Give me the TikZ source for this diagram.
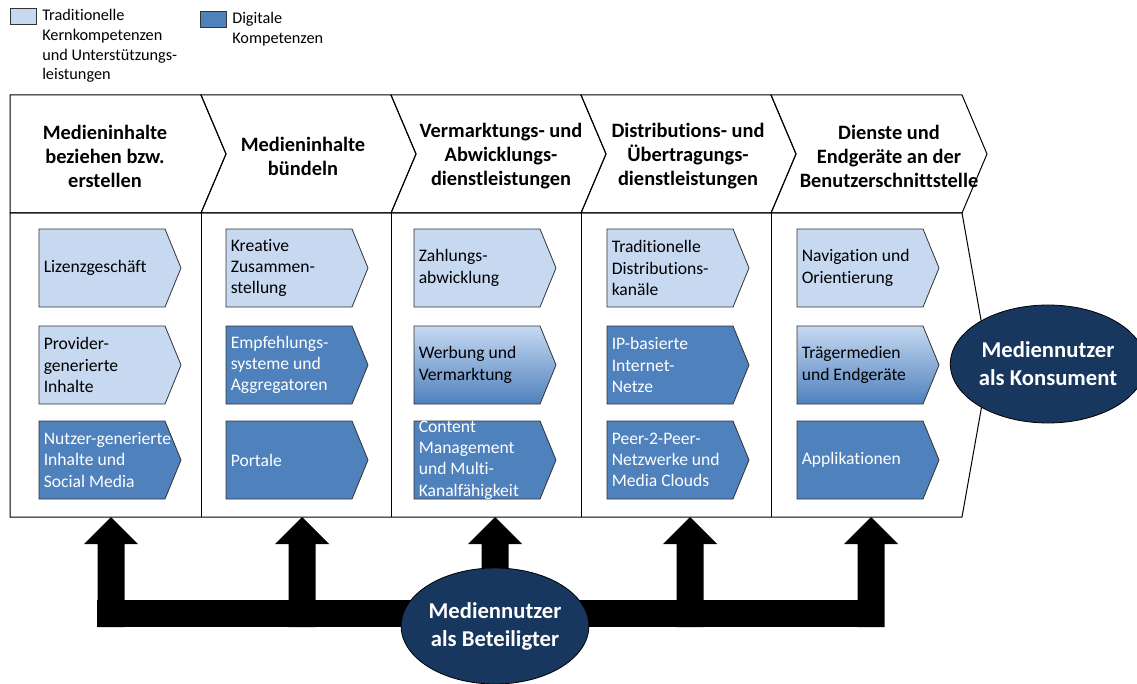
\documentclass[tikz,border=0pt]{standalone}
\usepackage{fontspec}
\setmainfont[Ligatures=NoCommon]{Carlito}
\usetikzlibrary{shapes.geometric}

\definecolor{tradblue}{RGB}{198,217,241}
\definecolor{digiblue}{RGB}{79,129,189}
\definecolor{usernavy}{RGB}{23,55,94}

\tikzset{
  outline/.style={draw=black, line width=0.75pt},
  kbox/.style={draw=black!80, line width=0.6pt},
  trad/.style={kbox, fill=tradblue},
  digi/.style={kbox, fill=digiblue},
  mixed/.style={kbox, top color=tradblue, middle color=tradblue!85!digiblue, bottom color=digiblue},
  ktext/.style={anchor=west, inner sep=0pt, align=left, font=\fontsize{13.2}{16}\selectfont},
  legtext/.style={anchor=north west, inner sep=0pt, align=left, font=\fontsize{12.2}{14.8}\selectfont},
  headtext/.style={inner sep=0pt, align=center, font=\fontsize{15.3}{18}\selectfont\bfseries},
  user/.style={ellipse, draw=black, line width=0.6pt, fill=usernavy, text=white,
    inner sep=0pt, align=center, font=\fontsize{17}{21}\selectfont\bfseries},
}

\begin{document}
\begin{tikzpicture}[x=0.75pt, y=-0.75pt]
  \useasboundingbox (0,0) rectangle (1137,684);

  % Legend
  \draw[trad] (10,8) rectangle (36,24);
  \node[legtext] (legtrad) at (42,9) {Traditionelle\\Kernkompetenzen\\und Unterstützungs-\\leistungen};
  \draw[digi] (200,11) rectangle (226,27);
  \node[legtext] (legdigi) at (232,12) {Digitale\\Kompetenzen};

  % Header row: chevrons of the value chain
  \def\topy{95}   % top of header
  \def\midy{154}  % chevron tip height
  \def\boty{213}  % bottom of header
  \def\notch{25}  % chevron depth
  \draw[outline] (10,\topy) -- (201,\topy) -- (201+\notch,\midy) -- (201,\boty) -- (10,\boty) -- cycle;
  \foreach \xa/\xb in {201/391, 391/581, 581/771, 771/962}
    \draw[outline] (\xa,\topy) -- (\xb,\topy) -- (\xb+\notch,\midy) -- (\xb,\boty)
      -- (\xa,\boty) -- (\xa+\notch,\midy) -- cycle;

  \node[headtext] (stage1) at (105,156) {Medieninhalte\\beziehen bzw.\\erstellen};
  \node[headtext] (stage2) at (303,156) {Medieninhalte\\bündeln};
  \node[headtext] (stage3) at (501,156) {Vermarktungs- und\\Abwicklungs-\\dienstleistungen};
  \node[headtext] (stage4) at (688,156) {Distributions- und\\Übertragungs-\\dienstleistungen};
  \node[headtext] (stage5) at (889,156) {Dienste und\\Endgeräte an der\\Benutzerschnittstelle};

  % Body with column dividers
  \draw[outline] (10,\boty) -- (962,\boty) -- (989,365) -- (962,517) -- (10,517) -- cycle;
  \foreach \xs in {201,391,581,771}
    \draw[outline] (\xs,\boty) -- (\xs,517);

  % Competence boxes (x, top y, style, text colour, text)
  \foreach \bx/\by/\bs/\bc/\bt [count=\i] in {
      39/229/trad/black/{Lizenzgeschäft},
      39/326/trad/black/{Provider-\\generierte\\Inhalte},
      39/421/digi/white/{Nutzer-generierte\\Inhalte und\\Social Media},
      226/229/trad/black/{Kreative\\Zusammen-\\stellung},
      226/326/digi/white/{Empfehlungs-\\systeme und\\Aggregatoren},
      226/421/digi/white/{Portale},
      414/229/trad/black/{Zahlungs-\\abwicklung},
      414/326/mixed/black/{Werbung und\\Vermarktung},
      414/421/digi/white/{Content\\Management\\und Multi-\\Kanalfähigkeit},
      607/229/trad/black/{Traditionelle\\Distributions-\\kanäle},
      607/326/digi/white/{IP-basierte\\Internet-\\Netze},
      607/421/digi/white/{Peer-2-Peer-\\Netzwerke und\\Media Clouds},
      797/229/trad/black/{Navigation und\\Orientierung},
      797/326/mixed/black/{Trägermedien\\und Endgeräte},
      797/421/digi/white/{Applikationen}}
  {
    \path[style/.expanded=\bs] (\bx,\by) -- ++(126,0) -- ++(16,39) -- ++(-16,39) -- ++(-126,0) -- cycle;
    \node[ktext, text=\bc] (box\i) at (\bx+4.5,\by+39) {\bt};
  }

  % Block arrows from the participating user up to each stage
  \foreach \ax [count=\i] in {111,302,495,690,871}
    \coordinate (tip\i) at (\ax,517);
  \fill (97,600) rectangle (884,627);
  \foreach \i in {1,...,5}
    \fill[shift={(tip\i)}] (-13.5,110) -- (-13.5,27) -- (-27,27) -- (0,0)
      -- (27,27) -- (13.5,27) -- (13.5,110) -- cycle;

  % Media users
  \node[user, minimum width=138pt, minimum height=87pt] (participant) at (495,626) {Mediennutzer\\als Beteiligter};
  \node[user, minimum width=132pt, minimum height=88.5pt] (consumer) at (1048,364) {Mediennutzer\\als Konsument};
\end{tikzpicture}
\end{document}
